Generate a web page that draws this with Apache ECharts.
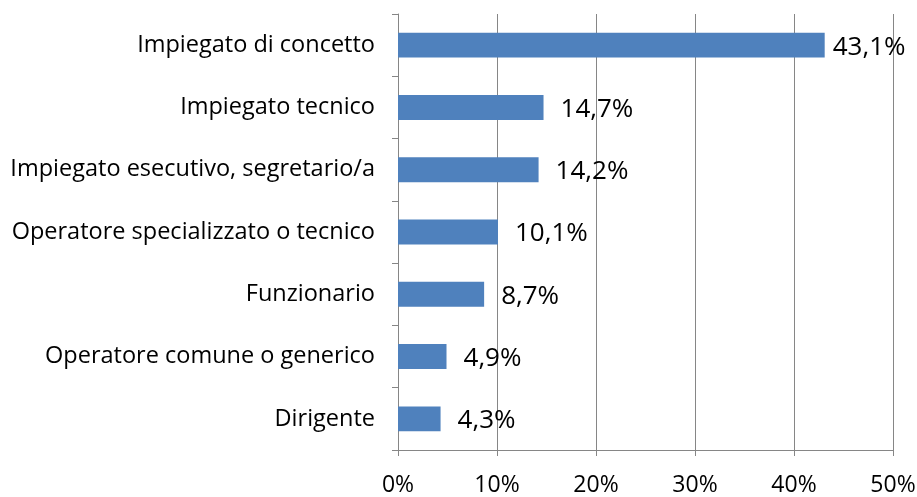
<!DOCTYPE html>
<html>
<head>
<meta charset="utf-8">
<script src="https://cdn.jsdelivr.net/npm/echarts@6/dist/echarts.min.js"></script>
<style>
  html, body { margin: 0; padding: 0; background: #fff; }
  #chart { width: 917px; height: 497px; }
</style>
</head>
<body>
<div id="chart"></div>
<script>
// categorie (dall'alto in basso)
const categories = [
  "Impiegato di concetto",
  "Impiegato tecnico",
  "Impiegato esecutivo, segretario/a",
  "Operatore specializzato o tecnico",
  "Funzionario",
  "Operatore comune o generico",
  "Dirigente"
];
// percentuali
const values = [43.1, 14.7, 14.2, 10.1, 8.7, 4.9, 4.3];
// asse x
const xTicks = [0, 10, 20, 30, 40, 50];

const FONT = "'Open Sans', sans-serif";
const gridColor = "#868686";

const chart = echarts.init(document.getElementById("chart"));
chart.setOption({
  animation: false,
  grid: {
    left: 398,
    right: 24,
    top: 14,
    bottom: 47,
    outerBoundsMode: "none"
  },
  xAxis: {
    type: "value",
    min: xTicks[0],
    max: xTicks[xTicks.length - 1],
    interval: xTicks[1] - xTicks[0],
    axisLine: { show: true, lineStyle: { color: gridColor, width: 1 } },
    axisTick: { show: true, length: 6, lineStyle: { color: gridColor } },
    splitLine: { show: true, lineStyle: { color: gridColor, width: 1 } },
    axisLabel: {
      formatter: "{value}%",
      color: "#000",
      fontFamily: FONT,
      fontSize: 23,
      margin: 24
    }
  },
  yAxis: {
    type: "category",
    inverse: true,
    data: categories,
    axisLine: { show: true, lineStyle: { color: gridColor, width: 1 } },
    axisTick: { show: true, length: 6, lineStyle: { color: gridColor } },
    axisLabel: {
      color: "#000",
      fontFamily: FONT,
      fontSize: 23.5,
      margin: 23
    }
  },
  series: [
    {
      type: "bar",
      // la prima etichetta è accostata alla barra (come nell'originale)
      data: values.map((v, i) => (i === 0 ? { value: v, label: { distance: 8 } } : v)),
      barCategoryGap: "60%",
      itemStyle: { color: "#4F81BD" },
      label: {
        show: true,
        position: "right",
        distance: 17,
        offset: [0, 2],
        color: "#000",
        fontFamily: FONT,
        fontSize: 26,
        formatter: (p) => p.value.toFixed(1).replace(".", ",") + "%"
      }
    }
  ]
});
</script>
</body>
</html>
